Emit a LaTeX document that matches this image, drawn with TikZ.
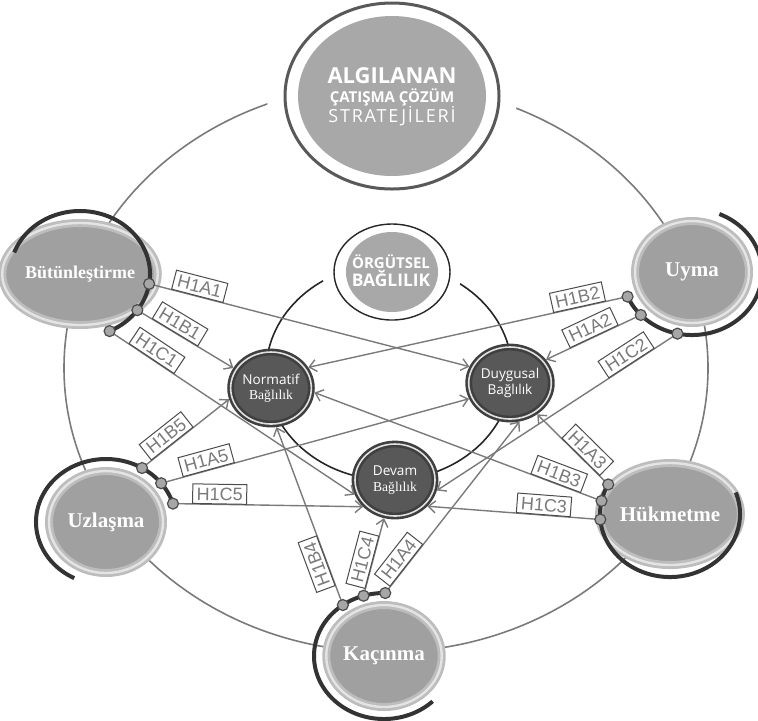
\documentclass[tikz,border=0pt]{standalone}
\usepackage{fontspec}
\setmainfont{Liberation Serif}
\newfontfamily\osans{Open Sans}
\newfontfamily\lsans{Liberation Sans}
\usetikzlibrary{shapes.geometric,arrows.meta}
\definecolor{lgray}{HTML}{7A7A7A}
\definecolor{sfill}{HTML}{A0A0A0}
\definecolor{sring}{HTML}{BDBDBD}
\definecolor{sringin}{HTML}{E4E4E4}
\definecolor{arcgray}{HTML}{333333}
\definecolor{bfill}{HTML}{585858}
\definecolor{bring}{HTML}{3F3F3F}
\definecolor{tfill}{HTML}{A8A8A8}
\begin{document}
\begin{tikzpicture}[x=0.5pt, y=-0.5pt,
    strat/.style={ellipse, inner sep=0pt, minimum width=57pt, minimum height=51pt,
      fill=sfill, draw=sring, line width=1.4pt, double=sringin, double distance=1.2pt,
      text=white, font=\bfseries\fontsize{10.5}{12}\selectfont},
    bag/.style={ellipse, inner sep=0pt, minimum width=40pt, minimum height=36pt,
      fill=bfill, draw=bring, line width=1.3pt, double=black!12, double distance=0.8pt,
      outer sep=1.7pt, text=white, align=center, font=\osans\fontsize{6.8}{7.6}\selectfont},
    hyp/.style={draw=black!70, line width=0.5pt, fill=white, sloped, above,
      inner xsep=2pt, inner ysep=1.7pt, text height=6.4pt, text depth=0pt,
      font=\lsans\fontsize{9}{10}\selectfont},
    con/.style={lgray, line width=0.7pt, -{Straight Barb[length=3.5pt, width=6pt]}},
    darc/.style={arcgray, line width=2pt},
    dot/.style={circle, inner sep=0pt, minimum size=5.5pt, fill=gray!70, draw=black!70, line width=0.6pt},
    title/.style={anchor=base, text=white, font=\osans\bfseries}]
  \useasboundingbox (0,0) rectangle (758,720);

  % outer and inner rings
  \draw[lgray, line width=0.8pt] (386,368) ellipse [x radius=322, y radius=284];
  \draw[black!85, line width=0.8pt] (389,372) ellipse [x radius=123, y radius=108];
  \fill[white] (392,96) ellipse [x radius=125, y radius=108];
  \fill[white] (392,270) ellipse [x radius=70, y radius=58];

  % top circles
  \node[ellipse, fill=tfill, inner sep=0pt, minimum width=94pt, minimum height=80pt] (alg) at (392,96) {};
  \draw[black!65, line width=1.5pt] (alg.center) ellipse [x radius=107, y radius=93];
  \node[title, font=\osans\bfseries\fontsize{11}{12}\selectfont] (algA) at (392,83) {ALGILANAN};
  \node[title, font=\osans\bfseries\fontsize{7.5}{9}\selectfont] (algB) at (392,102) {ÇATIŞMA ÇÖZÜM};
  \node[title, font=\osans\fontsize{9}{10}\selectfont\addfontfeature{LetterSpace=10}] (algC) at (392,122) {STRATEJİLERİ};

  \node[ellipse, fill=tfill, inner sep=0pt, minimum width=46pt, minimum height=40pt] (org) at (392,272) {};
  \draw[black!85, line width=0.7pt] (org.center) ellipse [x radius=58, y radius=48];
  \node[title, font=\osans\bfseries\fontsize{7.5}{9}\selectfont] (orgA) at (391,268) {ÖRGÜTSEL};
  \node[title, font=\osans\bfseries\fontsize{8.7}{10}\selectfont] (orgB) at (391,286) {BAĞLILIK};

  % commitment nodes
  \node[bag] (norm) at (271,388) {Normatif\\{\rmfamily Bağlılık}};
  \node[bag] (duy) at (510,383) {Duygusal\\Bağlılık};
  \node[bag] (dev) at (395,480) {Devam\\{\rmfamily Bağlılık}};

  % strategy nodes
  \node[strat, font=\bfseries\fontsize{9}{11}\selectfont] (bue) at (80,274) {Bütünleştirme};
  \node[strat] (uym) at (692,272) {Uyma};
  \node[strat] (uzl) at (106,522) {Uzlaşma};
  \node[strat] (huk) at (670,514) {Hükmetme};
  \node[strat] (kac) at (384,656) {Kaçınma};

  % arcs
  \draw[darc] ([shift={(-160:70 and 63)}]bue.center) arc [start angle=-160, end angle=65, x radius=70, y radius=63];
  \draw[darc] ([shift={(-67:70 and 63)}]uym.center) arc [start angle=-67, end angle=157, x radius=70, y radius=63];
  \draw[darc] ([shift={(-17:70 and 63)}]uzl.center) arc [start angle=-17, end angle=-243, x radius=70, y radius=63];
  \draw[darc] ([shift={(-20:70 and 63)}]huk.center) arc [start angle=-20, end angle=208, x radius=70, y radius=63];
  \draw[darc] ([shift={(-89:70 and 63)}]kac.center) arc [start angle=-89, end angle=-314, x radius=70, y radius=63];

  \coordinate (bA1) at ([shift={(9:70 and 63)}]bue.center);
  \coordinate (bB1) at ([shift={(35:70 and 63)}]bue.center);
  \coordinate (bC1) at ([shift={(65:70 and 63)}]bue.center);
  \coordinate (uB2) at ([shift={(157:70 and 63)}]uym.center);
  \coordinate (uA2) at ([shift={(137:70 and 63)}]uym.center);
  \coordinate (uC2) at ([shift={(102:70 and 63)}]uym.center);
  \coordinate (zB5) at ([shift={(-59:70 and 63)}]uzl.center);
  \coordinate (zA5) at ([shift={(-38:70 and 63)}]uzl.center);
  \coordinate (zC5) at ([shift={(-17:70 and 63)}]uzl.center);
  \coordinate (hC3) at ([shift={(175:70 and 63)}]huk.center);
  \coordinate (hB3) at ([shift={(192:70 and 63)}]huk.center);
  \coordinate (hA3) at ([shift={(208:70 and 63)}]huk.center);
  \coordinate (kA4) at ([shift={(-89:70 and 63)}]kac.center);
  \coordinate (kC4) at ([shift={(-107:70 and 63)}]kac.center);
  \coordinate (kB4) at ([shift={(-126:70 and 63)}]kac.center);

  % hypotheses
  \draw[con] (bA1) -- node[hyp, pos=0.15] {H1A1} (duy.158);
  \draw[con] (bB1) -- node[hyp, pos=0.39] {H1B1} (norm.152);
  \draw[con] (bC1) -- node[hyp, pos=0.17] {H1C1} (dev.200);
  \draw[con] (uB2) -- node[hyp, pos=0.15] {H1B2} (norm.29);
  \draw[con] (uA2) -- node[hyp, pos=0.49] {H1A2} (duy.33);
  \draw[con] (uC2) -- node[hyp, pos=0.19] {H1C2} (dev.346);
  \draw[con] (zB5) -- node[hyp, pos=0.35] {H1B5} (norm.195);
  \draw[con] (zA5) -- node[hyp, pos=0.155] {H1A5} (duy.201);
  \draw[con] (zC5) -- node[hyp, pos=0.245] {H1C5} (dev.220);
  \draw[con] (hA3) -- node[hyp, pos=0.39] {H1A3} (duy.311);
  \draw[con] (hB3) -- node[hyp, pos=0.16] {H1B3} (norm.354);
  \draw[con] (hC3) -- node[hyp, pos=0.33] {H1C3} (dev.321);
  \draw[con] (kB4) -- node[hyp, allow upside down, pos=0.25] {H1B4} (norm.278);
  \draw[con] (kC4) -- node[hyp, pos=0.43] {H1C4} (dev.254);
  \draw[con] (kA4) -- node[hyp, pos=0.16] {H1A4} (duy.284);

  \foreach \p in {bA1,bB1,bC1,uB2,uA2,uC2,zB5,zA5,zC5,hC3,hB3,hA3,kA4,kC4,kB4}
    \node[dot] at (\p) {};
\end{tikzpicture}
\end{document}
